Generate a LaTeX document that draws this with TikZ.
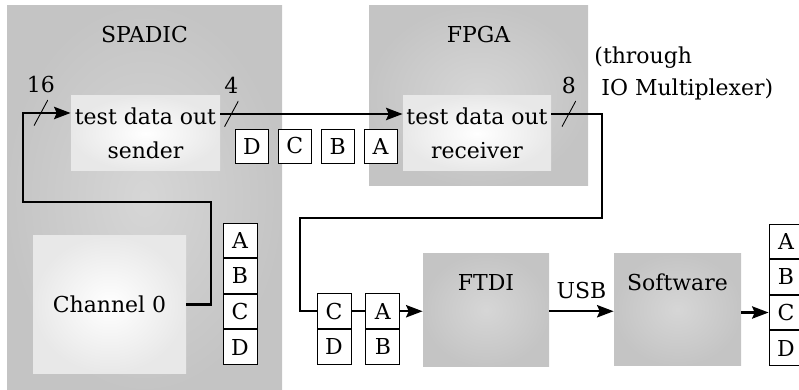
\documentclass[tikz,border=0pt]{standalone}
\usepackage{fontspec}
\setmainfont{DejaVu Serif}
\usepackage{tikz}
\usetikzlibrary{positioning, arrows.meta}
\tikzset{
  chip/.style={rectangle, inner sep=0pt, shading=radial,
               inner color=black!16, outer color=black!23},
  unit/.style={rectangle, inner sep=0pt, align=center, shading=radial,
               inner color=white, outer color=black!9},
  title/.style={anchor=base, inner sep=0pt},
  cell/.style={rectangle, draw, fill=white, thin, inner sep=0pt,
               minimum width=0.544cm, minimum height=0.555cm},
  pkt/.style={rectangle, draw, fill=white, thin, inner sep=0pt,
              minimum width=0.528cm, minimum height=0.544cm},
  bus/.style={inner sep=0pt, minimum width=0.224cm, minimum height=0.416cm,
              path picture={\draw[thin, -] (path picture bounding box.north east)
                            -- (path picture bounding box.south west);},
              label={[label distance=-1pt]above:#1}},
  arr/.style={-{Stealth[length=7.5pt, width=5.6pt, inset=1.2pt]}, line width=1pt},
  wire/.style={line width=1pt},
}

\begin{document}
\begin{tikzpicture}[every node/.style={font=\fontsize{10}{15.5}\selectfont}]
  \useasboundingbox (0,0) rectangle (12.784,-6.24);
  % chips
  \node[chip, minimum width=4.4cm, minimum height=6.144cm] (spadic) at (2.312,-3.168) {};
  \node[chip, minimum width=3.504cm, minimum height=2.88cm] (fpga) at (7.656,-1.536) {};
  \node[chip, minimum width=2.016cm, minimum height=1.792cm] (ftdi) at (7.776,-4.96) {};
  \node[chip, minimum width=2.032cm, minimum height=1.776cm] (sw) at (10.84,-4.952) {};
  \node[title] (spadict) at ([yshift=-0.592cm]spadic.north) {SPADIC};
  \node[title] (fpgat) at ([yshift=-0.592cm]fpga.north) {FPGA};
  \node[title] (ftdit) at ([yshift=-0.592cm]ftdi.north) {FTDI};
  \node[title] (swt) at ([yshift=-0.592cm]sw.north) {Software};
  % inner units
  \node[unit, minimum width=2.384cm, minimum height=1.2cm] (sender) at (2.328,-2.136)
        {test data out\\sender};
  \node[unit, minimum width=2.368cm, minimum height=1.2cm] (receiver) at (7.632,-2.136)
        {test data out\\receiver};
  \node[unit, minimum width=2.448cm, minimum height=2.192cm] (ch0) at (1.752,-4.872)
        {Channel 0};
  \node[anchor=west, inner sep=0pt, align=left,
        font=\fontsize{10}{14.5}\selectfont] (mux) at (9.504,-1.17)
        {(through\\\mbox{}\ IO Multiplexer)};

  % data words
  \node[cell] (wa) at (3.84,-3.846) {A};
  \node[cell, below=0pt of wa] (wb) {B};
  \node[cell, below=0pt of wb] (wc) {C};
  \node[cell, below=0pt of wc] (wd) {D};

  \node[pkt] (pd) at (4.032,-2.336) {D};
  \node[pkt, right=0.144cm of pd] (pc) {C};
  \node[pkt, right=0.144cm of pc] (pb) {B};
  \node[pkt, right=0.144cm of pb] (pa) {A};

  \node[cell] (fc) at (5.344,-4.98) {C};
  \node[cell, below=0pt of fc] (fd) {D};
  \node[cell, right=0.224cm of fc] (fa) {A};
  \node[cell, below=0pt of fa] (fb) {B};

  \node[cell] (oa) at (12.576,-3.862) {A};
  \node[cell, below=0pt of oa] (ob) {B};
  \node[cell, below=0pt of ob] (oc) {C};
  \node[cell, below=0pt of oc] (od) {D};

  % connections
  \coordinate (sin) at ([yshift=0.328cm]sender.west);
  \coordinate (sout) at ([yshift=0.312cm]sender.east);
  \coordinate (rout) at ([yshift=0.312cm]receiver.east);
  \draw[arr] (ch0.east) -| (3.376,-3.232) -| (0.368,-1.808)
        -- node[bus=16, pos=0.375] (b16) {} (sin);
  \draw[arr] (sout) -- node[bus=4, pos=0.06] (b4) {} (sout -| receiver.west);
  \draw[wire] (rout) -- node[bus=8, pos=0.343] (b8) {} (9.632,-1.824)
        |- (4.8,-3.488) |- (fc.west);
  \draw[wire] (fc.east) -- (fa.west);
  \draw[arr] (fa.east) -- (fa.east -| ftdi.west);
  \draw[arr] (ftdi.east |- fa.east) -- node[above=2pt] (usb) {USB} (sw.west |- fa.east);
  \draw[arr] (sw.east |- oc.west) -- (oc.west);
\end{tikzpicture}
\end{document}
